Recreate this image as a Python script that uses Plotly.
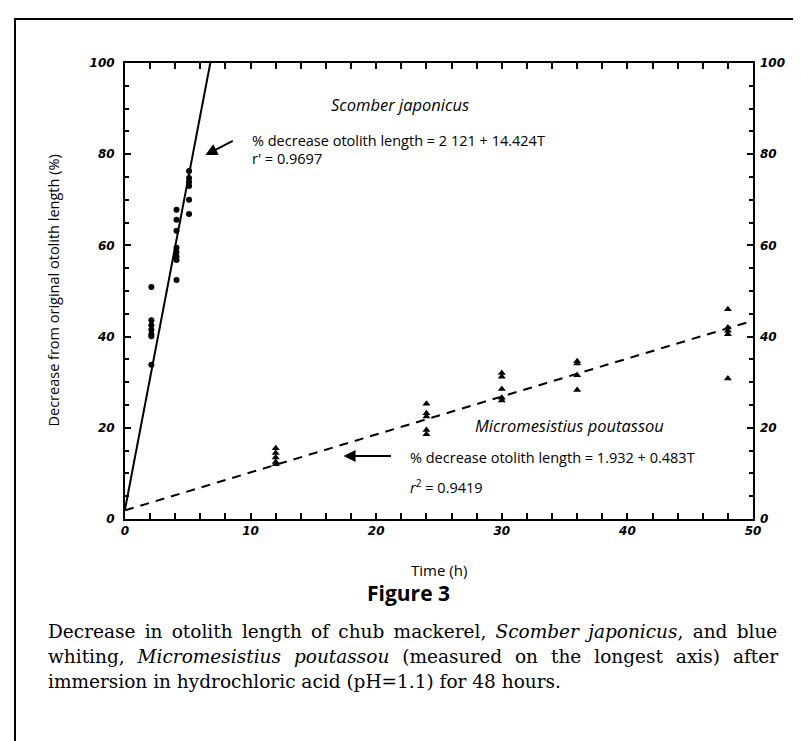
import plotly.graph_objects as go

# --- Data ---
# Scomber japonicus (circles)
scomber_t = [2.1]*7 + [4.1]*8 + [5.1]*6
scomber_pct = [50.9, 43.6, 42.5, 41.5, 40.5, 40.1, 33.8,
               67.8, 65.6, 63.2, 59.5, 58.5, 57.5, 56.8, 52.4,
               76.3, 74.8, 73.9, 73.0, 70.0, 66.9]
# Micromesistius poutassou (triangles)
micro_t = [12]*5 + [24]*5 + [30]*5 + [36]*4 + [48]*5
micro_pct = [15.5, 14.5, 13.5, 12.5, 12.0,
             25.3, 23.2, 22.5, 19.5, 18.6,
             32.0, 31.2, 28.5, 26.6, 26.0,
             34.6, 34.1, 31.5, 28.3,
             46.0, 42.0, 41.3, 40.5, 30.8]
# Fitted lines as drawn (end points)
scomber_fit_t = [0, 6.79]
scomber_fit_pct = [2.1, 100]
micro_fit_t = [0, 50]
micro_fit_pct = [1.9, 43.5]

x_ticks = [0, 10, 20, 30, 40, 50]
y_ticks = [0, 20, 40, 60, 80, 100]

caption_lines = [
    "Decrease in otolith length of chub mackerel, <i>Scomber japonicus</i>, and blue",
    "whiting, <i>Micromesistius poutassou</i> (measured on the longest axis) after",
    "immersion in hydrochloric acid (pH=1.1) for 48 hours.",
]
# word gaps used to justify the caption lines like the printed page
caption_gaps = ["\u2002", "\u2002\u2009", " "]

W, H = 801, 741
L, R, T, B = 117, 56, 55, 230
PW, PH = W - L - R, H - T - B

def px(xp):
    return (xp - L) / PW

def py(yp):
    return (H - B - yp) / PH

fig = go.Figure()
fig.add_trace(go.Scatter(x=scomber_fit_t, y=scomber_fit_pct, mode="lines",
                         line=dict(color="black", width=2), showlegend=False,
                         hoverinfo="skip"))
fig.add_trace(go.Scatter(x=micro_fit_t, y=micro_fit_pct, mode="lines",
                         line=dict(color="black", width=2, dash="9px,7px"),
                         showlegend=False, hoverinfo="skip"))
fig.add_trace(go.Scatter(x=scomber_t, y=scomber_pct, mode="markers",
                         marker=dict(symbol="circle", size=6, color="black"),
                         showlegend=False))
fig.add_trace(go.Scatter(x=micro_t, y=micro_pct, mode="markers",
                         marker=dict(symbol="triangle-up", size=7, color="black"),
                         showlegend=False))
# invisible trace to activate right axis
fig.add_trace(go.Scatter(x=[None], y=[None], yaxis="y2", showlegend=False,
                         hoverinfo="skip"))

tickfont = dict(family="DejaVu Sans", size=12, color="black",
                weight="bold", style="italic")
txtfont = dict(family="Open Sans", size=14.5, color="black")

fig.update_layout(
    width=W, height=H,
    margin=dict(l=L, r=R, t=T, b=B),
    paper_bgcolor="white", plot_bgcolor="white",
    xaxis=dict(range=[0, 50], tickvals=x_ticks, ticktext=[str(v) for v in x_ticks],
               ticks="inside", ticklen=6, tickwidth=1.5, tickcolor="black",
               minor=dict(dtick=2, ticks="inside", ticklen=4, tickcolor="black"),
               showline=True, linecolor="black", linewidth=2, mirror="allticks",
               showgrid=False, zeroline=False, tickfont=tickfont),
    yaxis=dict(range=[0, 100], tickvals=y_ticks, ticktext=[str(v) for v in y_ticks],
               ticks="inside", ticklen=6, tickwidth=1.5, tickcolor="black",
               minor=dict(dtick=5, ticks="inside", ticklen=4, tickcolor="black"),
               showline=True, linecolor="black", linewidth=2, mirror="allticks",
               showgrid=False, zeroline=False, tickfont=tickfont, ticklabelstandoff=6),
    yaxis2=dict(range=[0, 100], overlaying="y", side="right", tickvals=y_ticks,
                ticktext=[str(v) for v in y_ticks], ticks="inside", ticklen=6,
                tickcolor="black", showline=False, showgrid=False, zeroline=False,
                tickfont=tickfont, ticklabelstandoff=6),
)

ann = []
ann.append(dict(x=px(33), y=0.5, xref="paper", yref="paper", text="Decrease from original otolith length (%)",
                textangle=-90, showarrow=False, font=dict(family="Open Sans", size=14.5, color="black")))
ann.append(dict(x=0.5, y=py(574), xref="paper", yref="paper", text="Time (h)",
                showarrow=False, font=dict(family="Open Sans", size=15, color="black")))
ann.append(dict(x=px(400), y=py(601), xref="paper", yref="paper", text="<b>Figure 3</b>",
                showarrow=False, font=dict(family="Open Sans", size=21, color="black")))
for i, (line, gap) in enumerate(zip(caption_lines, caption_gaps)):
    ann.append(dict(x=px(38), y=py(636 + 25*i), xref="paper", yref="paper",
                    text=line.replace(" ", gap), xanchor="left", showarrow=False,
                    font=dict(family="DejaVu Serif", size=18.5, color="black")))
# in-plot annotations
ann.append(dict(x=21.9, y=90.8, text="<i>Scomber japonicus</i>", showarrow=False,
                font=dict(family="Open Sans", size=16.5, color="black")))
ann.append(dict(x=9.95, y=83.1, text="% decrease otolith length = 2 121 + 14.424T", xanchor="left",
                showarrow=False, font=txtfont))
ann.append(dict(x=9.95, y=79.0, text="r' = 0.9697", xanchor="left",
                showarrow=False, font=txtfont))
ann.append(dict(x=6.4, y=79.8, ax=8.7, ay=83.1, axref="x", ayref="y", text="",
                showarrow=True, arrowhead=2, arrowsize=1.2, arrowwidth=2, arrowcolor="black"))
ann.append(dict(x=35.4, y=20.6, text="<i>Micromesistius poutassou</i>", showarrow=False,
                font=dict(family="Open Sans", size=16.5, color="black")))
ann.append(dict(x=22.5, y=13.4, text="% decrease otolith length = 1.932 + 0.483T", xanchor="left",
                showarrow=False, font=txtfont))
ann.append(dict(x=22.5, y=7.2, text="<i>r</i><sup>2</sup> = 0.9419", xanchor="left",
                showarrow=False, font=txtfont))
ann.append(dict(x=17.4, y=13.8, ax=21.3, ay=13.8, axref="x", ayref="y", text="",
                showarrow=True, arrowhead=2, arrowsize=1.2, arrowwidth=2, arrowcolor="black"))
fig.update_layout(annotations=ann)

fig.add_shape(type="path", xref="paper", yref="paper",
              path=f"M {px(810)} {py(11)} L {px(7)} {py(11)} L {px(7)} {py(733)}",
              line=dict(color="black", width=2))

fig.write_html("out.html")
